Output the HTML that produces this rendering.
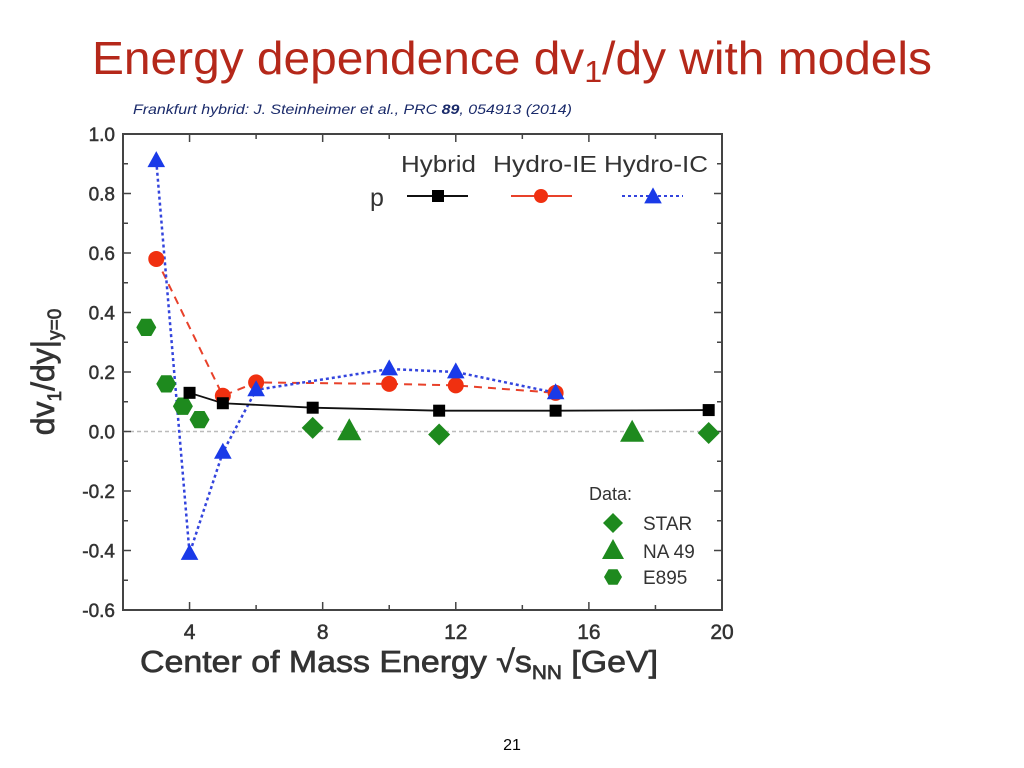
<!DOCTYPE html>
<html><head><meta charset="utf-8"><style>
body{margin:0;width:1024px;height:768px;background:#fff;overflow:hidden;font-family:"Liberation Sans",sans-serif}
svg{position:absolute;left:0;top:0}
</style></head><body>
<svg id="c" width="1024" height="768">
<text x="92" y="74" font-size="46" fill="#b5281a" textLength="840" lengthAdjust="spacingAndGlyphs">Energy dependence dv<tspan font-size="31" dy="8">1</tspan><tspan dy="-8">/dy with models</tspan></text>
<text x="133" y="114" font-size="14" font-style="italic" fill="#1a2a6a" textLength="439" lengthAdjust="spacingAndGlyphs">Frankfurt hybrid: J. Steinheimer et al., PRC <tspan font-weight="bold">89</tspan>, 054913 (2014)</text>
<text x="512" y="750" text-anchor="middle" font-size="16" fill="#000">21</text>
<g id="plot"></g>
</svg>
<script>
const xTicks=[4,8,12,16,20];
const yTicks=[1.0,0.8,0.6,0.4,0.2,0.0,-0.2,-0.4,-0.6];
const hybridX=[4,5,7.7,11.5,15,19.6];
const hybridY=[0.13,0.095,0.08,0.07,0.07,0.072];
const ieX=[3,5,6,10,12,15];
const ieY=[0.58,0.12,0.165,0.16,0.155,0.13];
const icX=[3,4,5,6,10,12,15];
const icY=[0.91,-0.41,-0.07,0.14,0.21,0.2,0.13];
const starX=[7.7,11.5,19.6];
const starY=[0.012,-0.01,-0.005];
const na49X=[8.8,17.3];
const na49Y=[0.0,-0.005];
const e895X=[2.7,3.3,3.8,4.3];
const e895Y=[0.35,0.16,0.085,0.04];

const L=123,R=722,T=134,B=610,X0=2,X1=20,Y0=-0.6,Y1=1.0;
const sx=v=>L+(v-X0)/(X1-X0)*(R-L);
const sy=v=>B-(v-Y0)/(Y1-Y0)*(B-T);
const NS="http://www.w3.org/2000/svg";
const g=document.getElementById('plot');
function mk(t,a,p){const e=document.createElementNS(NS,t);for(const k in a)e.setAttribute(k,a[k]);(p||g).appendChild(e);return e;}
let e;
e=mk('rect',{x:L,y:T,width:R-L,height:B-T,fill:'none',stroke:'#444','stroke-width':2});


e=mk('line',{x1:L,x2:R,y1:sy(0),y2:sy(0),stroke:'#bbb','stroke-dasharray':'4 3','stroke-width':1.5});


for(let v=X0;v<=X1;v+=2){const x=sx(v),len=(v%4===0)?8:5;
 mk('line',{x1:x,x2:x,y1:B,y2:B-len,stroke:'#444','stroke-width':1.5});
 mk('line',{x1:x,x2:x,y1:T,y2:T+len,stroke:'#444','stroke-width':1.5});}
xTicks.forEach(v=>{e=mk('text',{x:sx(v),y:B+29,'text-anchor':'middle','font-size':21,fill:'#333',stroke:'#333','stroke-width':0.5});e.textContent=v;

});
for(let i=0;i<=16;i++){const v=Y0+i*0.1,y=sy(v),len=(i%2===0)?8:5;
 mk('line',{x1:L,x2:L+len,y1:y,y2:y,stroke:'#444','stroke-width':1.5});
 mk('line',{x1:R,x2:R-len,y1:y,y2:y,stroke:'#444','stroke-width':1.5});}
yTicks.forEach(v=>{e=mk('text',{x:L-8,y:sy(v)+7,'text-anchor':'end','font-size':19,fill:'#333',stroke:'#333','stroke-width':0.5});e.textContent=v.toFixed(1);

});
e=mk('text',{x:140,y:672,'font-size':31,fill:'#333',stroke:'#333','stroke-width':0.7,textLength:518,lengthAdjust:'spacingAndGlyphs'});
e.innerHTML='Center of Mass Energy √s<tspan font-size="19" dy="7">NN</tspan><tspan dy="-7"> [GeV]</tspan>';


e=mk('text',{transform:'translate(54,372) rotate(-90)','text-anchor':'middle','font-size':32,fill:'#333',stroke:'#333','stroke-width':0.7});
e.innerHTML='dv<tspan font-size="19" dy="7">1</tspan><tspan dy="-7">/dy|</tspan><tspan font-size="19" dy="7">y=0</tspan>';



function line(xs,ys,col,dash,w,name){const pts=xs.map((x,i)=>sx(x)+','+sy(ys[i])).join(' ');
 const a={points:pts,fill:'none',stroke:col,'stroke-width':w};if(dash)a['stroke-dasharray']=dash;
 e=mk('polyline',a);
 
 }
function marker(type,x,y,col,s){
 if(type==='sq')return mk('rect',{x:x-s,y:y-s,width:2*s,height:2*s,fill:col});
 if(type==='ci')return mk('circle',{cx:x,cy:y,r:s,fill:col});
 if(type==='tr')return mk('polygon',{points:`${x},${y-s*1.2} ${x-s*1.1},${y+s*0.8} ${x+s*1.1},${y+s*0.8}`,fill:col});
 if(type==='di')return mk('polygon',{points:`${x},${y-s} ${x+s},${y} ${x},${y+s} ${x-s},${y}`,fill:col});
 if(type==='hx'){let p=[];for(let k=0;k<6;k++){const a=Math.PI/3*k;p.push((x+s*Math.cos(a))+','+(y+s*Math.sin(a)));}return mk('polygon',{points:p.join(' '),fill:col});}
}
function pts(xs,ys,type,col,s,name){xs.forEach((v,i)=>{e=marker(type,sx(v),sy(ys[i]),col,s);
 
 });}
line(ieX,ieY,'#e8412a','8 6',2,'hydro-ie-line');
line(icX,icY,'#3344dd','3 3',2.5,'hydro-ic-line');
line(hybridX,hybridY,'#111',null,1.8,'hybrid-line');
pts(e895X,e895Y,'hx','#1e8a1e',10,'e895-point');
pts(starX,starY,'di','#1e8a1e',11,'star-point');
pts(na49X,na49Y,'tr','#1e8a1e',11,'na49-point');
pts(ieX,ieY,'ci','#f03010',8,'hydro-ie-point');
pts(icX,icY,'tr','#1a3ae8',8,'hydro-ic-point');
pts(hybridX,hybridY,'sq','#000',6,'hybrid-point');

function txt(x,y,s,fs,name,tl){const a={x:x,y:y,'font-size':fs,fill:'#333'};if(tl){a.textLength=tl;a.lengthAdjust='spacingAndGlyphs';}
 e=mk('text',a);e.textContent=s;
 
 }
txt(401,172,'Hybrid',23,'legend-hybrid-label',75);
txt(493,172,'Hydro-IE',23,'legend-ie-label',104);
txt(604,172,'Hydro-IC',23,'legend-ic-label',104);
txt(370,206,'p',25,'legend-p-label');
mk('line',{x1:407,x2:468,y1:196,y2:196,stroke:'#111','stroke-width':2});
mk('rect',{x:432,y:190,width:12,height:12,fill:'#000'});
mk('line',{x1:511,x2:572,y1:196,y2:196,stroke:'#e8412a','stroke-width':2});
mk('circle',{cx:541,cy:196,r:7,fill:'#f03010'});
mk('line',{x1:622,x2:683,y1:196,y2:196,stroke:'#3344dd','stroke-width':2,'stroke-dasharray':'3 3'});
marker('tr',653,197,'#1a3ae8',8);
txt(589,500,'Data:',18,'legend-data-title');
marker('di',613,523,'#1e8a1e',10);
marker('tr',613,551,'#1e8a1e',10);
marker('hx',613,577,'#1e8a1e',9);
txt(643,530,'STAR',19,'legend-star-label');
txt(643,558,'NA 49',19,'legend-na49-label');
txt(643,584,'E895',19,'legend-e895-label');
</script>
</body></html>
